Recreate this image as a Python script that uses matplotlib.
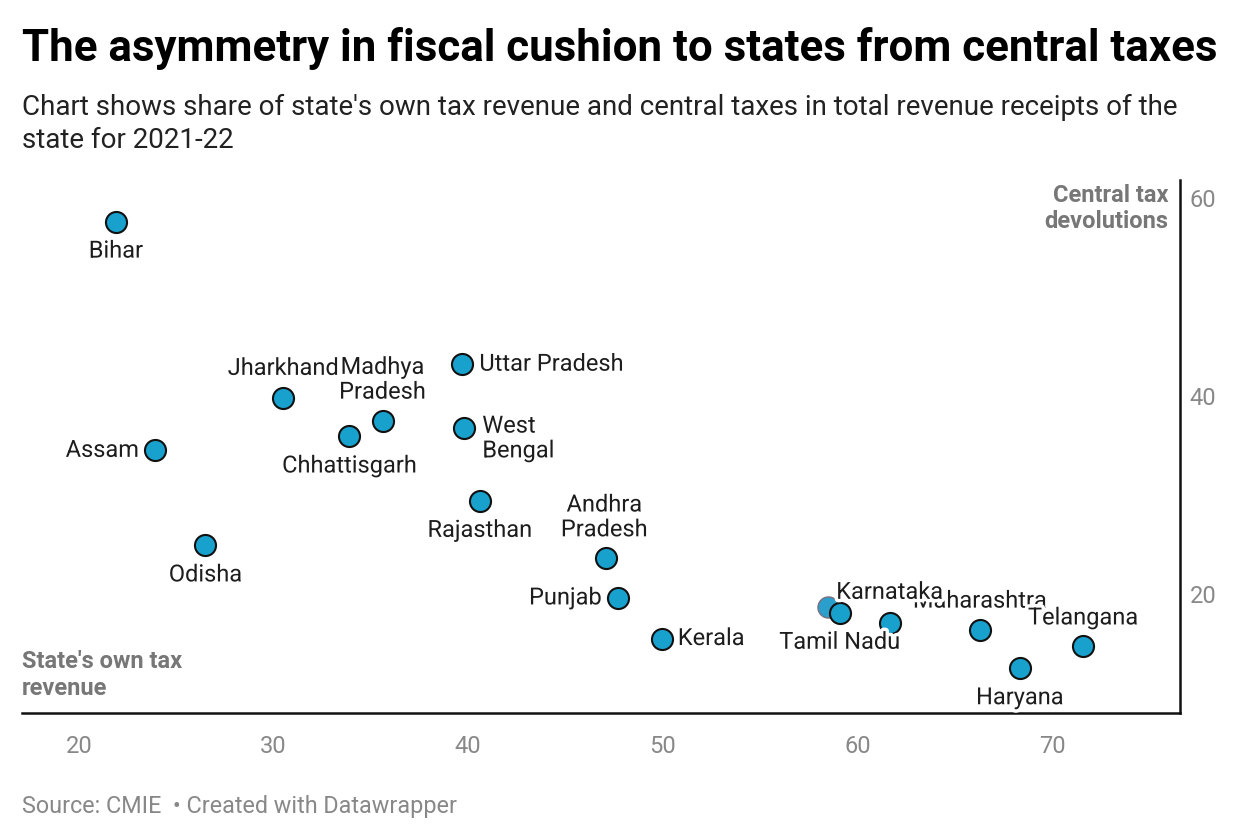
import matplotlib
matplotlib.use("Agg")
import matplotlib.pyplot as plt
import matplotlib.patheffects as pe

plt.rcParams['font.family'] = ['Roboto', 'DejaVu Sans']

# data: state's own tax revenue share (x), central tax share (y)
states = ["Bihar", "Assam", "Odisha", "Jharkhand", "Chhattisgarh", "Madhya\nPradesh",
          "Uttar Pradesh", "West\nBengal", "Rajasthan", "Andhra\nPradesh", "Punjab",
          "Kerala", "Gujarat", "Maharashtra", "Haryana", "Telangana", "Tamil Nadu", "Karnataka"]
own_tax = [21.9, 23.9, 26.5, 30.5, 33.9, 35.6, 39.7, 39.8, 40.6, 47.1, 47.7,
           49.95, 61.7, 66.3, 68.35, 71.6, 59.1, 58.5]
central_tax = [57.6, 34.5, 24.9, 39.8, 35.9, 37.5, 43.2, 36.8, 29.4, 23.6, 19.6,
               15.5, 17.1, 16.4, 12.5, 14.7, 18.1, 18.7]
x_ticks = [20, 30, 40, 50, 60, 70]
y_ticks = [20, 40, 60]

# label placement: (dx px, dy px, ha, va)
placement = {
    "Bihar": (0, -18, "center", "top"),
    "Assam": (-16, 0, "right", "center"),
    "Odisha": (0, -18, "center", "top"),
    "Jharkhand": (0, 18, "center", "bottom"),
    "Chhattisgarh": (0, -18, "center", "top"),
    "Madhya\nPradesh": (0, 17, "center", "bottom"),
    "Uttar Pradesh": (17, 0, "left", "center"),
    "West\nBengal": (18, 13, "left", "top"),
    "Rajasthan": (0, -18, "center", "top"),
    "Andhra\nPradesh": (-2, 17, "center", "bottom"),
    "Punjab": (-16, 0, "right", "center"),
    "Kerala": (16, 0, "left", "center"),
    "Karnataka": (8, 3, "left", "bottom"),
    "Tamil Nadu": (0, -18, "center", "top"),
    "Gujarat": None,
    "Maharashtra": (0, 17, "center", "bottom"),
    "Haryana": (0, -18, "center", "top"),
    "Telangana": (0, 17, "center", "bottom"),
}

fig = plt.figure(figsize=(12.4, 8.4), dpi=100)
ax = fig.add_axes([22 / 1240, 127 / 840, 1158 / 1240, 533 / 840])

for name, x, y in zip(states, own_tax, central_tax):
    if name == "Karnataka":
        ax.scatter(x, y, s=230, color="#2a9fcc", edgecolor="#7a6f80", linewidth=1.0, zorder=2)
    else:
        ax.scatter(x, y, s=230, color="#18a1cd", edgecolor="#111111", linewidth=1.5, zorder=3)

for i, (name, x, y) in enumerate(zip(states, own_tax, central_tax)):
    p = placement[name]
    if p is None:
        continue
    dx, dy, ha, va = p
    ax.annotate(name, (x, y), xytext=(dx, dy), textcoords="offset pixels",
                ha=ha, va=va, fontsize=17, color="#1d1d1d", linespacing=1.1, zorder=4 + i * 0.01,
                path_effects=[pe.withStroke(linewidth=5, foreground="white")])

ax.set_xlim(17.07, 76.58)
ax.set_ylim(7.98, 61.8)
ax.set_xticks(x_ticks)
ax.set_yticks(y_ticks)
ax.yaxis.tick_right()
ax.tick_params(length=0, labelsize=17, labelcolor="#888888")
ax.tick_params(axis="x", pad=16)
ax.tick_params(axis="y", pad=7)
for s in ["top", "left"]:
    ax.spines[s].set_visible(False)
for s in ["bottom", "right"]:
    ax.spines[s].set_linewidth(1.8)
    ax.spines[s].set_color("#111111")

ax.text(0, 0.025, "State's own tax\nrevenue", transform=ax.transAxes, ha="left", va="bottom",
        fontsize=17, fontweight="bold", color="#777777", linespacing=1.2)
ax.text(0.99, 0.993, "Central tax\ndevolutions", transform=ax.transAxes, ha="right", va="top",
        fontsize=17, fontweight="bold", color="#777777", linespacing=1.2)

fig.text(22 / 1240, 1 - 48 / 840, "The asymmetry in fiscal cushion to states from central taxes",
         ha="left", va="center", fontsize=31.6, fontweight="bold", color="#000000")
fig.text(22 / 1240, 1 - 124 / 840,
         "Chart shows share of state's own tax revenue and central taxes in total revenue receipts of the\nstate for 2021-22",
         ha="left", va="center", fontsize=20, color="#222222", linespacing=1.3)
fig.text(22 / 1240, 1 - 806 / 840, "Source: CMIE  \u2022 Created with Datawrapper",
         ha="left", va="center", fontsize=16.8, color="#888888")

fig.savefig("out.png", dpi=100, facecolor="white")
